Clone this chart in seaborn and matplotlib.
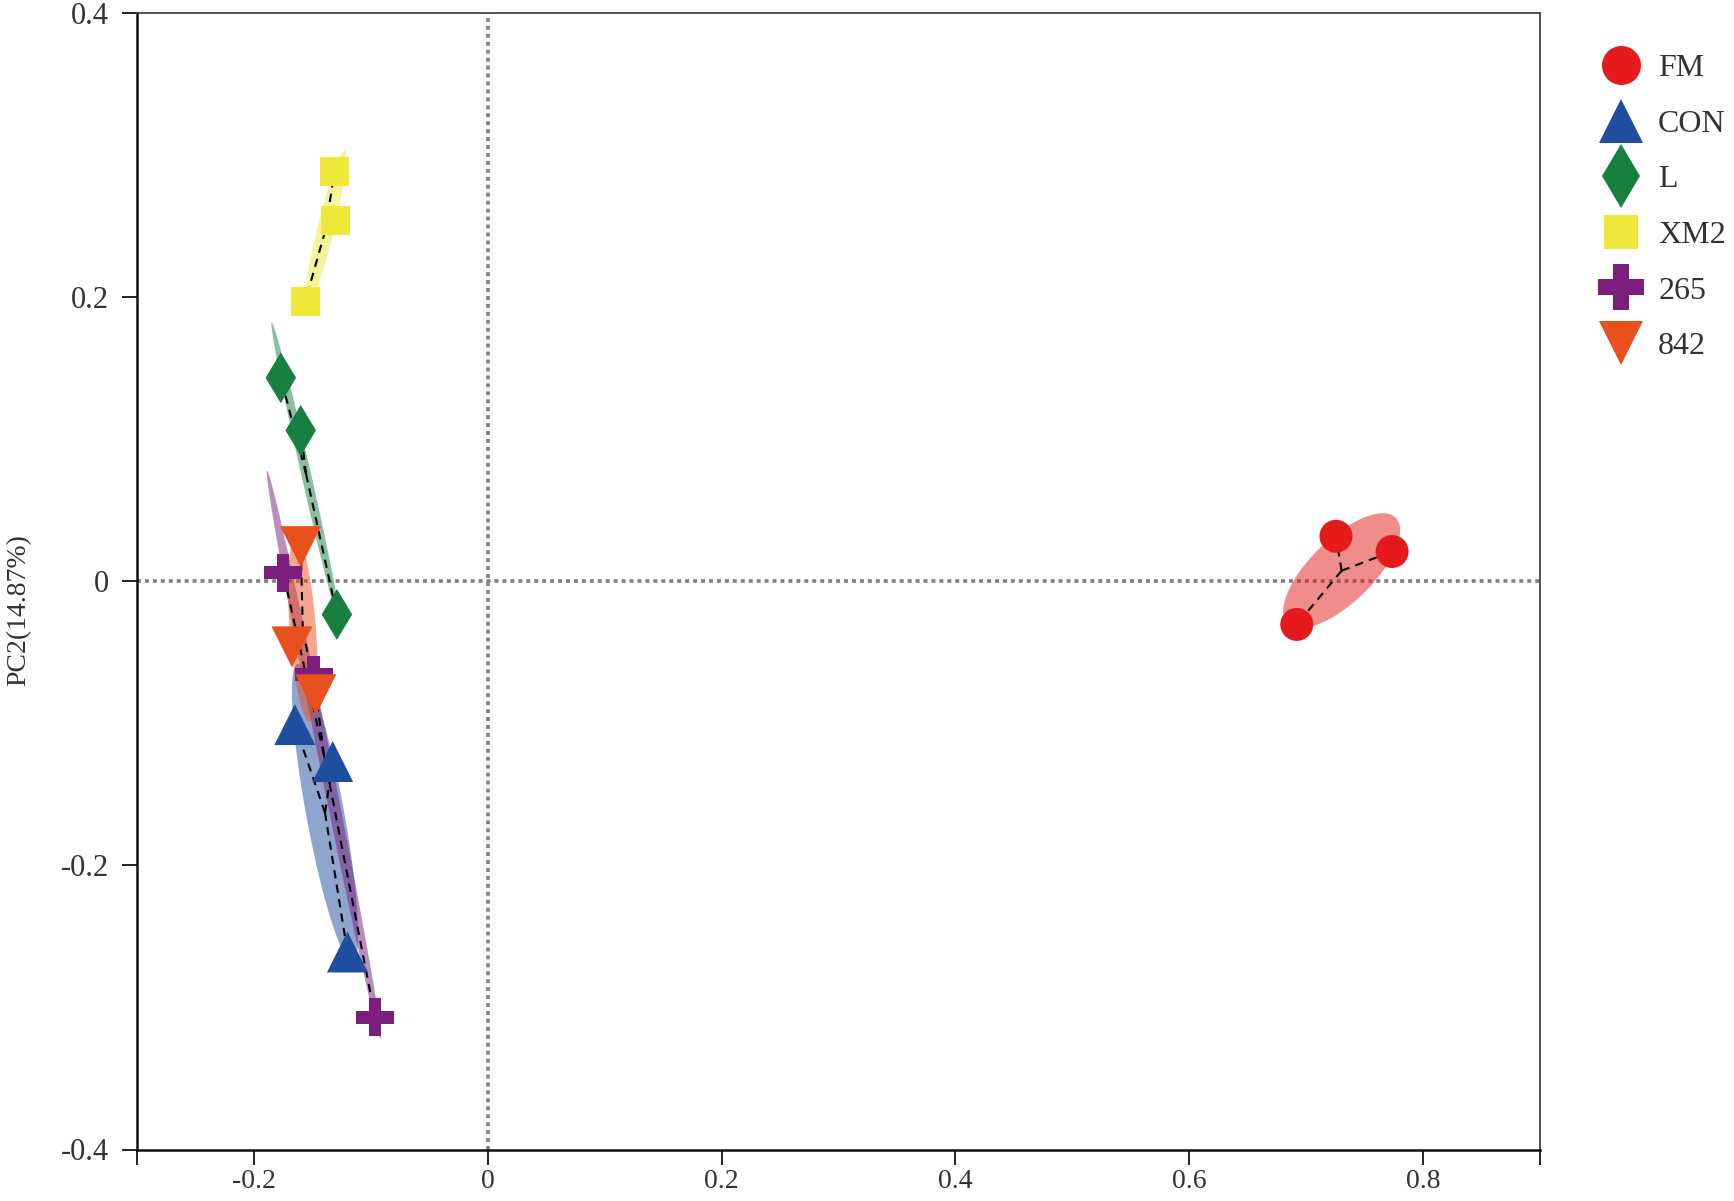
import numpy as np
import pandas as pd
import matplotlib
matplotlib.use('Agg')
import matplotlib.pyplot as plt
from matplotlib.lines import Line2D
import seaborn as sns

sns.set_style('white')
plt.rcParams['font.family'] = ['Liberation Serif', 'DejaVu Serif']

groups = ['FM', 'CON', 'L', 'XM2', '265', '842']
colors = ['#E41A1C', '#1F4E9E', '#178040', '#EEE83A', '#7B1E7E', '#E8501E']
markers = ['o', '^', 'd', 's', 'P', 'v']

# PC1 / PC2 scores, three samples per group
pc1_fm = [0.692, 0.7255, 0.7735]
pc2_fm = [-0.0305, 0.0315, 0.0208]
pc1_con = [-0.165, -0.1326, -0.120]
pc2_con = [-0.101, -0.127, -0.261]
pc1_l = [-0.177, -0.160, -0.129]
pc2_l = [0.143, 0.106, -0.0235]
pc1_xm2 = [-0.156, -0.130, -0.131]
pc2_xm2 = [0.197, 0.254, 0.2885]
pc1_265 = [-0.175, -0.149, -0.0963]
pc2_265 = [0.0059, -0.0658, -0.307]
pc1_842 = [-0.160, -0.1675, -0.147]
pc2_842 = [0.0242, -0.0463, -0.080]

pc1 = [pc1_fm, pc1_con, pc1_l, pc1_xm2, pc1_265, pc1_842]
pc2 = [pc2_fm, pc2_con, pc2_l, pc2_xm2, pc2_265, pc2_842]

xticks = [-0.3, -0.2, 0, 0.2, 0.4, 0.6, 0.8, 0.9]
xticklabels = ['', '-0.2', '0', '0.2', '0.4', '0.6', '0.8', '']
yticks = [-0.4, -0.2, 0, 0.2, 0.4]
yticklabels = ['-0.4', '-0.2', '0', '0.2', '0.4']

df = pd.DataFrame({
    'PC1': np.concatenate(pc1),
    'PC2': np.concatenate(pc2),
    'group': np.repeat(groups, 3),
})

palette = dict(zip(groups, colors))
marker_map = dict(zip(groups, markers))
size_px = {'FM': 33, 'CON': 41, 'L': 36, 'XM2': 29, '265': 38, '842': 41}
sizes = {g: (v * 72 / 100) ** 2 for g, v in size_px.items()}

fig = plt.figure(figsize=(17.34, 12.01), dpi=100)
ax = fig.add_axes([137 / 1734, 1 - 1149.5 / 1201, (1540 - 137) / 1734, (1149.5 - 12.6) / 1201])

ax.axvline(0, color='#808080', lw=2.6, ls=(0, (1.1, 1.1)), zorder=1)
ax.axhline(0, color='#808080', lw=2.6, ls=(0, (1.1, 1.1)), zorder=1)

# ellipses + spider lines from centroid
k = 1.22
t = np.linspace(0, 2 * np.pi, 200)
for g, xs, ys in zip(groups, pc1, pc2):
    xs = np.array(xs)
    ys = np.array(ys)
    cx, cy = xs.mean(), ys.mean()
    cov = np.cov(xs, ys)
    vals, vecs = np.linalg.eigh(cov)
    vals = np.clip(vals, 0, None)
    circ = np.vstack([np.cos(t), np.sin(t)])
    pts = vecs @ (np.sqrt(vals)[:, None] * circ) * k
    ax.fill(cx + pts[0], cy + pts[1], color=palette[g], alpha=0.5, lw=0, zorder=2)
    for x, y in zip(xs, ys):
        ax.plot([cx, x], [cy, y], color='black', lw=1.5, ls=(0, (4, 3)), zorder=3)

sns.scatterplot(data=df, x='PC1', y='PC2', hue='group', style='group', size='group',
                palette=palette, markers=marker_map, sizes=sizes, linewidth=0,
                legend=False, ax=ax, zorder=4)

ax.set_xlim(-0.3, 0.9)
ax.set_ylim(-0.4, 0.4)
ax.set_xticks(xticks)
ax.set_xticklabels(xticklabels)
ax.set_yticks(yticks)
ax.set_yticklabels(yticklabels)
ax.set_xlabel('')
ax.set_ylabel('PC2(14.87%)', fontsize=20, color='#333333')
ax.yaxis.set_label_coords(-0.0755, 0.4745)
ax.tick_params(axis='both', direction='out', length=11, width=1.4, color='#222222',
               labelcolor='#333333', bottom=True, left=True, top=False, right=False)
ax.tick_params(axis='y', labelsize=22, pad=9)
ax.tick_params(axis='x', labelsize=20, pad=3)

for side in ['left', 'bottom']:
    ax.spines[side].set_color('#111111')
    ax.spines[side].set_linewidth(1.8)
for side in ['top', 'right']:
    ax.spines[side].set_color('#444444')
    ax.spines[side].set_linewidth(1.3)

leg_px = {'FM': 39, 'CON': 44, 'L': 45, 'XM2': 34, '265': 46, '842': 44}
handles = [Line2D([], [], ls='', marker=marker_map[g], color=palette[g], markeredgewidth=0,
                  markersize=leg_px[g] * 72 / 100) for g in groups]
leg = fig.legend(handles, groups, loc='upper left', bbox_to_anchor=(1600 / 1734, 1 - 54 / 1201),
                 frameon=False, fontsize=23, labelspacing=0.82, handletextpad=0.52,
                 handlelength=1.3, borderpad=0, borderaxespad=0)
for txt in leg.get_texts():
    txt.set_color('#333333')

fig.savefig('out.png', dpi=100)
